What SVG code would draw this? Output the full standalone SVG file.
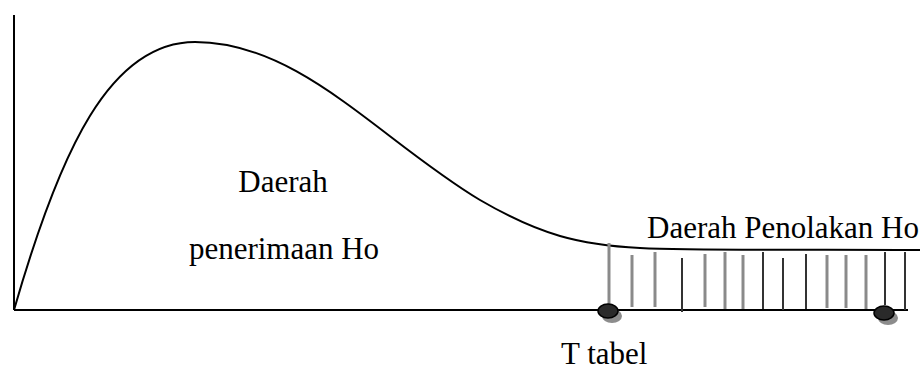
<svg xmlns="http://www.w3.org/2000/svg" width="920" height="379" viewBox="0 0 920 379">
<style>
.t{font-family:"Liberation Serif","Times New Roman",serif;font-size:31px;fill:#000}
.ax{stroke:#000;stroke-width:2;fill:none}
.cv{stroke:#000;stroke-width:2;fill:none}
.hg{stroke:#8a8a8a;stroke-width:3}
.hd{stroke:#333;stroke-width:2}
.dot{fill:#2a2a2a;stroke:#000;stroke-width:1.5}
.sh{fill:#8c8c8c}
</style>
<rect width="920" height="379" fill="#fff"/>
<g id="connectors">
<line class="ax" x1="14" y1="15" x2="14" y2="310"/>
<line class="ax" x1="14" y1="310" x2="908" y2="310"/>
<path class="cv" d="M14,310 C60,150 110,42 195,42 C300,42 380,140 480,200 C540,235 580,245 640,248 C700,251 800,249 920,250"/>
</g>
<g id="hatch">
<line class="hg" x1="609" y1="243" x2="609" y2="310"/>
<line class="hg" x1="632" y1="255" x2="632" y2="307"/>
<line class="hg" x1="655" y1="252" x2="655" y2="307"/>
<line class="hd" x1="682" y1="258" x2="682" y2="312"/>
<line class="hg" x1="705" y1="254" x2="705" y2="307"/>
<line class="hg" x1="725" y1="252" x2="725" y2="309"/>
<line class="hg" x1="743" y1="255" x2="743" y2="309"/>
<line class="hd" x1="763" y1="252" x2="763" y2="309"/>
<line class="hd" x1="783" y1="258" x2="783" y2="310"/>
<line class="hd" x1="806" y1="254" x2="806" y2="309"/>
<line class="hg" x1="827" y1="255" x2="827" y2="308"/>
<line class="hg" x1="846" y1="255" x2="846" y2="308"/>
<line class="hg" x1="866" y1="255" x2="866" y2="309"/>
<line class="hd" x1="885" y1="252" x2="885" y2="305"/>
<line class="hd" x1="905" y1="252" x2="905" y2="310"/>
</g>
<g id="point-ttabel">
<ellipse class="sh" cx="612" cy="316" rx="10" ry="7"/>
<ellipse class="dot" cx="608" cy="311" rx="10" ry="7"/>
</g>
<g id="point-end">
<ellipse class="sh" cx="888" cy="318" rx="10" ry="7"/>
<ellipse class="dot" cx="884" cy="313" rx="10" ry="7"/>
</g>
<g id="label-accept">
<text class="t" x="283" y="192" text-anchor="middle">Daerah</text>
<text class="t" x="284" y="259" text-anchor="middle">penerimaan Ho</text>
</g>
<g id="label-reject">
<text class="t" x="647" y="238">Daerah Penolakan Ho</text>
</g>
<g id="label-ttabel">
<text class="t" x="561" y="364">T tabel</text>
</g>
</svg>
